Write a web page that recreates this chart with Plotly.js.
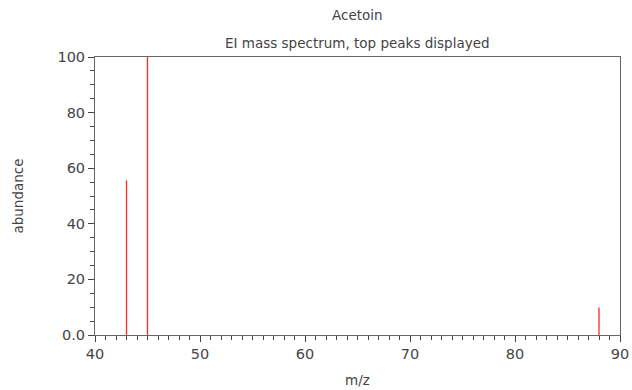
<!DOCTYPE html>
<html><head><meta charset="utf-8">
<script src="https://cdn.plot.ly/plotly-3.0.1.min.js"></script>
<style>html,body{margin:0;padding:0;background:#fff}#c{width:632px;height:390px}</style>
</head><body><div id="c"></div>
<script>
const mz = [43, 45, 88];
const abundance = [55.6, 100, 9.9];
const yTickVals = [0, 20, 40, 60, 80, 100];
const yTickText = ['0.0', '20', '40', '60', '80', '100'];
const xTickVals = [40, 50, 60, 70, 80, 90];

const traces = mz.map((m, i) => ({
  x: [m, m], y: [0, abundance[i]], type: 'scatter', mode: 'lines',
  line: {color: 'rgb(255,40,40)', width: 1.3}, hoverinfo: 'skip', showlegend: false
}));

const font = {family: 'DejaVu Sans', size: 14.5, color: '#444'};
const tfont = {family: 'DejaVu Sans', size: 13.5, color: '#444'};
const axisCommon = {
  showgrid: false, zeroline: false, showline: true, mirror: true,
  linecolor: '#666', linewidth: 1, ticks: 'outside', ticklen: 6,
  tickcolor: '#444', tickfont: font
};
Plotly.newPlot('c', traces, {
  width: 632, height: 390,
  margin: {l: 95, r: 12, t: 57, b: 55},
  paper_bgcolor: '#fff', plot_bgcolor: '#fff',
  font: font,
  annotations: [
    {text: 'Acetoin', xref: 'paper', yref: 'paper', x: 0.5, y: 1, yanchor: 'middle', yshift: 42, showarrow: false, font: tfont},
    {text: 'EI mass spectrum, top peaks displayed', xref: 'paper', yref: 'paper', x: 0.5, y: 1, yanchor: 'middle', yshift: 14, showarrow: false, font: tfont}
  ],
  xaxis: Object.assign({}, axisCommon, {range: [40, 90], tickvals: xTickVals,
    minor: {dtick: 1, ticks: 'outside', ticklen: 4, tickcolor: '#444', showgrid: false},
    title: {text: 'm/z', font: tfont, standoff: 14}}),
  yaxis: Object.assign({}, axisCommon, {range: [0, 100], tickvals: yTickVals, ticktext: yTickText,
    minor: {dtick: 5, ticks: 'outside', ticklen: 4, tickcolor: '#444', showgrid: false},
    title: {text: 'abundance', font: tfont, standoff: 30}})
}, {displayModeBar: false, staticPlot: true});
</script></body></html>
